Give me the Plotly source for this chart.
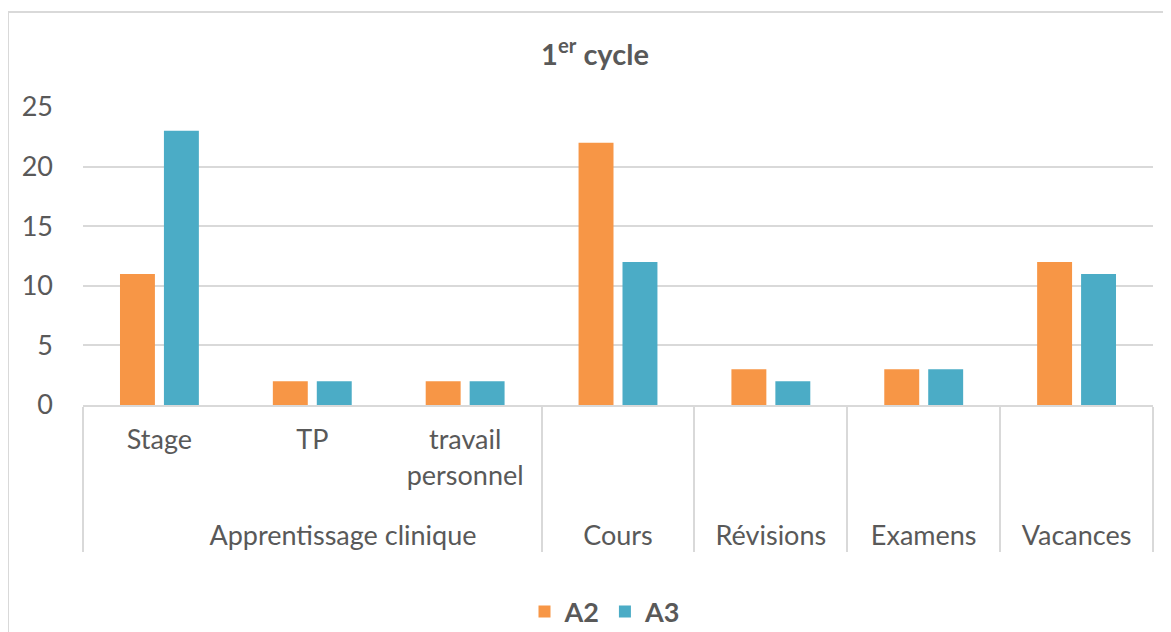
import plotly.graph_objects as go

AC = "\u00a0" * 9 + "Apprentissage clinique"
groups = [AC, AC, AC, "Cours", "Révisions", "Examens", "Vacances"]
subcats = ["Stage", "TP", "travail<br>personnel<br> ", "", "", "", ""]
a2 = [11, 2, 2, 22, 3, 3, 12]
a3 = [23, 2, 2, 12, 2, 3, 11]
y_ticks = [0, 5, 10, 15, 20, 25]

ORANGE = "#F79646"
BLUE = "#4BACC6"
TXT = "#595959"
GRID = "#D9D9D9"
FONT = "Lato, Open Sans, sans-serif"
FS = 27

fig = go.Figure()
fig.add_trace(go.Bar(name="<b>A2</b>", x=[groups, subcats], y=a2, marker=dict(color=ORANGE, line=dict(width=0))))
fig.add_trace(go.Bar(name="<b>A3</b>", x=[groups, subcats], y=a3, marker=dict(color=BLUE, line=dict(width=0))))

# the page body adds an 8px offset, so figure pixel positions are reference minus 8
OFF = 8
W, H = 1171 - OFF, 632 - OFF
L, T = 83 - OFF, 107 - OFF
R = W - (1153 - OFF)
B = H - (405 - OFF)
pw, ph = W - L - R, H - T - B

def px_x(x):
    return (x - OFF - L) / pw

def px_y(y):
    return ((405 - OFF) - (y - OFF)) / ph

fig.update_layout(
    width=W, height=H,
    margin=dict(l=L, r=R, t=T, b=B, autoexpand=False),
    paper_bgcolor="white", plot_bgcolor="white",
    barmode="group", bargap=0.425, bargroupgap=0.205,
    font=dict(family=FONT, size=FS, color=TXT),
    title=dict(text="<b>1<sup>er</sup> cycle</b>", x=px_x(595), xref="paper",
               xanchor="center", y=1 - (55 - OFF) / H, yanchor="middle", automargin=False,
               font=dict(family=FONT, size=29, color=TXT)),
    showlegend=True,
    legend=dict(orientation="h", x=px_x(605), xanchor="center", y=px_y(612), yanchor="middle",
                font=dict(family=FONT, size=FS, color=TXT), traceorder="normal"),
    xaxis=dict(type="multicategory", showline=True, linecolor=GRID, linewidth=2,
               showdividers=True, dividercolor=GRID, dividerwidth=2, automargin=False,
               ticklabelstandoff=10,
               tickfont=dict(family=FONT, size=FS, color=TXT), ticks=""),
    yaxis=dict(range=[0, 25], tickvals=y_ticks, showgrid=True, gridcolor=GRID, gridwidth=2,
               zeroline=False, showline=False, ticks="", ticklabelstandoff=29, automargin=False,
               tickfont=dict(family=FONT, size=FS, color=TXT)),
)

# chart frame
fig.add_shape(type="line", xref="paper", yref="paper",
              x0=px_x(8), x1=px_x(8), y0=px_y(12), y1=px_y(700),
              line=dict(color=GRID, width=2))
fig.add_shape(type="line", xref="paper", yref="paper",
              x0=px_x(8), x1=px_x(1200), y0=px_y(12), y1=px_y(12),
              line=dict(color=GRID, width=2))
fig.write_html("out.html")
